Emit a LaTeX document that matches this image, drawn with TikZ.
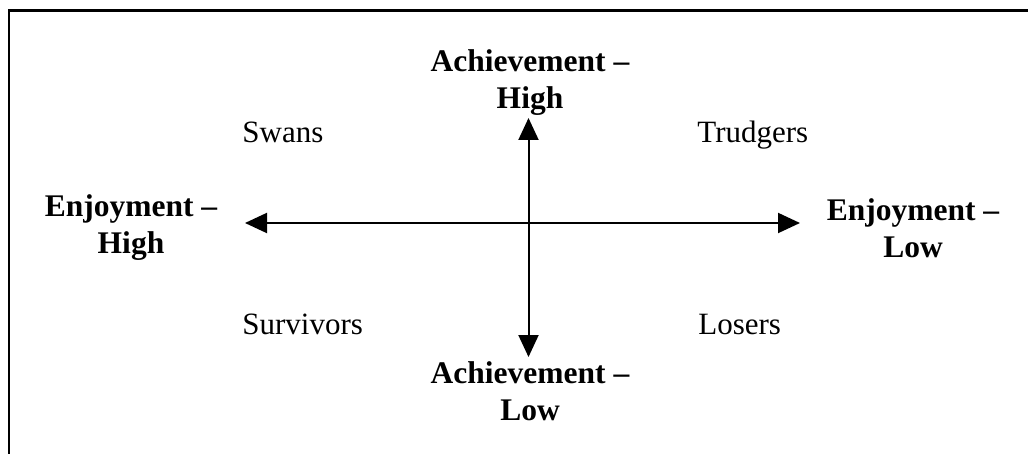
\documentclass[tikz,border=0pt]{standalone}
\usepackage{fontspec}
\setmainfont{Liberation Serif}
\usepackage{tikz}
\usetikzlibrary{arrows.meta}

\begin{document}
\begin{tikzpicture}[x=0.5pt, y=-0.5pt,
	axislabel/.style={font=\bfseries\fontsize{15.75}{18.5}\selectfont, align=center, inner sep=0pt, anchor=base},
	quadrant/.style={font=\fontsize{15.5}{18.5}\selectfont, inner sep=0pt, anchor=base west},
	axis/.style={line width=1pt, >={Triangle[length=11pt,width=10pt]}, <->}]

	\useasboundingbox (0, 0) rectangle (1028, 454);
	\draw[line width=1.25pt] (1028, 10.5) -- (9, 10.5) -- (9, 454);

	% base anchor sits on the last line
	\node[axislabel] (AchHigh) at (530, 109) {Achievement --\\High};
	\node[axislabel] (AchLow) at (530, 420) {Achievement --\\Low};
	\node[axislabel] (EnjHigh) at (131, 254) {Enjoyment --\\High};
	\node[axislabel] (EnjLow) at (913, 258) {Enjoyment --\\Low};

	\node[quadrant] (Swans) at (242, 143) {Swans};
	\node[quadrant] (Trudgers) at (697, 143) {Trudgers};
	\node[quadrant] (Survivors) at (242, 335) {Survivors};
	\node[quadrant] (Losers) at (698, 335) {Losers};

	\coordinate (UpTip) at (528.5, 118);
	\coordinate (DownTip) at (528.5, 357);
	\coordinate (LeftTip) at (245, 223);
	\coordinate (RightTip) at (800, 223);

	\draw[axis] (UpTip) -- (DownTip);
	\draw[axis] (LeftTip) -- (RightTip);

\end{tikzpicture}
\end{document}
